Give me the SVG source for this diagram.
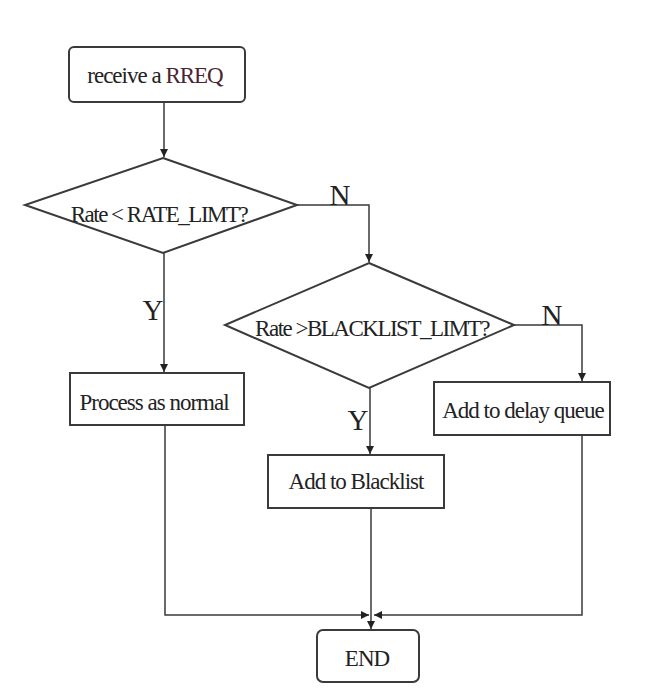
<svg xmlns="http://www.w3.org/2000/svg" width="670" height="689" viewBox="0 0 670 689">
<defs>
<marker id="ah" viewBox="0 0 10 10" refX="10" refY="5" markerWidth="8" markerHeight="8" markerUnits="userSpaceOnUse" orient="auto">
<path d="M0,0 L10,5 L0,10 z" fill="#222"/>
</marker>
<style>
.box{fill:#fff;stroke:#3a3a3a;stroke-width:2}
.ln{fill:none;stroke:#3a3a3a;stroke-width:1.5}
.t{font-family:"Liberation Serif","Times New Roman",serif;font-size:23px;letter-spacing:-1px;fill:#222;text-anchor:middle}
.d{letter-spacing:-1.5px}
.lbl{font-family:"Liberation Serif","Times New Roman",serif;font-size:29px;fill:#222;text-anchor:middle}
</style>
</defs>
<rect width="670" height="689" fill="#fff"/>
<g id="connectors">
<path class="ln" d="M164,102 V157" marker-end="url(#ah)"/>
<path class="ln" d="M297,205 H369 V262" marker-end="url(#ah)"/>
<path class="ln" d="M164,253 V372" marker-end="url(#ah)"/>
<path class="ln" d="M514,325 H582 V381" marker-end="url(#ah)"/>
<path class="ln" d="M370,388 V454" marker-end="url(#ah)"/>
<path class="ln" d="M165,425 V615 H369" marker-end="url(#ah)"/>
<path class="ln" d="M582,435 V615 H374" marker-end="url(#ah)"/>
<path class="ln" d="M371,508 V629" marker-end="url(#ah)"/>
<text class="lbl" x="340" y="205">N</text>
<text class="lbl" x="552" y="325">N</text>
<text class="lbl" x="153" y="320">Y</text>
<text class="lbl" x="358" y="430">Y</text>
</g>
<g id="start">
<rect class="box" x="69" y="47" width="176" height="55" rx="5"/>
<text class="t" x="155" y="83">receive a <tspan fill="#4a2535">RREQ</tspan></text>
</g>
<g id="decision1">
<polygon class="box" points="163,158 297,205 163,253 25,205"/>
<text class="t d" x="159" y="222">Rate &lt; RATE_LIMT?</text>
</g>
<g id="decision2">
<polygon class="box" points="369,263 514,325 369,388 225,325"/>
<text class="t d" x="372" y="336">Rate &gt;BLACKLIST_LIMT?</text>
</g>
<g id="process">
<rect class="box" x="70" y="373" width="174" height="52"/>
<text class="t" x="154" y="410">Process as normal</text>
</g>
<g id="blacklist">
<rect class="box" x="268" y="455" width="176" height="53"/>
<text class="t" x="356" y="489">Add to Blacklist</text>
</g>
<g id="delay">
<rect class="box" x="434" y="382" width="176" height="53"/>
<text class="t" x="523" y="418">Add to delay queue</text>
</g>
<g id="end">
<rect class="box" x="317" y="630" width="102" height="52" rx="6"/>
<text class="t" x="367" y="666">END</text>
</g>
</svg>
